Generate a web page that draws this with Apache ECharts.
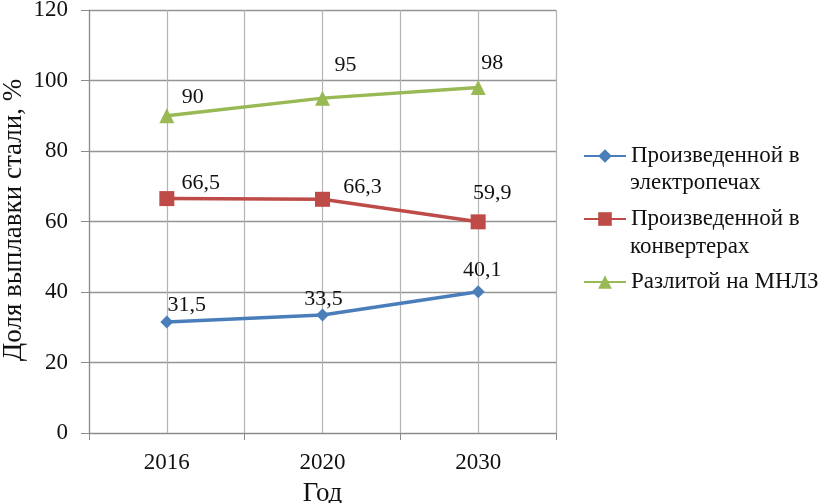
<!DOCTYPE html>
<html><head><meta charset="utf-8">
<script src="https://cdn.jsdelivr.net/npm/echarts@6/dist/echarts.min.js"></script>
<style>html,body{margin:0;padding:0;background:#fff}#c{width:822px;height:503px}</style>
</head><body><div id="c"></div>
<script>
const categories = ['2016', '2020', '2030'];
const seriesNames = ['Произведенной в электропечах', 'Произведенной в конвертерах', 'Разлитой на МНЛЗ'];
const legendFirstLines = ['Произведенной в', 'Произведенной в', 'Разлитой на МНЛЗ'];
const legendSecondLines = ['электропечах', 'конвертерах', ''];
const yAxisTitle = 'Доля выплавки стали, %';
const xAxisTitle = 'Год';
const electroValues = [31.5, 33.5, 40.1];
const converterValues = [66.5, 66.3, 59.9];
const mnlzValues = [90, 95, 98];
const yTicks = [0, 20, 40, 60, 80, 100, 120];

// layout-only label offsets (not data)
const labelOffsets = [
  [[20, 1], [1, 2], [4, -4]],
  [[34, 3], [40, 6], [14, -10]],
  [[26, 0], [23, -14], [14, -6]]
];
const colors = ['#4a7ebb', '#be4b48', '#98b954'];
const symbols = ['diamond', 'rect', 'triangle'];
const allValues = [electroValues, converterValues, mnlzValues];
const font = 'Liberation Serif, Times New Roman, serif';

const series = allValues.map((vals, si) => ({
  name: seriesNames[si],
  type: 'line',
  xAxisIndex: 0,
  yAxisIndex: 0,
  symbol: symbols[si],
  symbolSize: si === 0 ? 13 : 15,
  lineStyle: { width: 3.5, color: colors[si] },
  itemStyle: { color: colors[si] },
  data: vals.map((v, i) => ({
    value: v,
    label: { offset: labelOffsets[si][i] }
  })),
  label: {
    show: true,
    position: 'top',
    distance: 0,
    fontFamily: font,
    fontSize: 22,
    color: '#111',
    formatter: p => String(p.value).replace('.', ',')
  },
  z: 3 + si
}));

// second lines of the two-line legend entries (real text)
const legendTextX = 630;
const legendFirstY = 156;
const legendStep = [0, 64, 126];
const graphics = legendSecondLines.map((t, i) => t ? ({
  type: 'text',
  x: legendTextX,
  y: legendFirstY + legendStep[i] + 27,
  style: { text: t, font: '23px ' + font, fill: '#111', verticalAlign: 'middle' }
}) : null).filter(Boolean);
graphics.push({
  type: 'text',
  x: 14,
  y: 220,
  rotation: Math.PI / 2,
  style: { text: yAxisTitle, font: '27px ' + font, fill: '#111', align: 'center', verticalAlign: 'middle' }
});

const chart = echarts.init(document.getElementById('c'));
chart.setOption({
  animation: false,
  backgroundColor: '#fff',
  grid: { left: 89, right: 266, top: 10, bottom: 70, containLabel: false, outerBoundsMode: 'none' },
  xAxis: [{
    type: 'category',
    data: categories,
    boundaryGap: true,
    name: xAxisTitle,
    nameLocation: 'middle',
    nameGap: 47,
    nameTextStyle: { fontFamily: font, fontSize: 27, color: '#111' },
    axisLine: { lineStyle: { color: '#8a8a8a', width: 1.2 } },
    axisTick: { show: true, length: 7, interval: 0, lineStyle: { color: '#8a8a8a' } },
    axisLabel: { fontFamily: font, fontSize: 23, color: '#111', margin: 18, interval: 0 },
    splitLine: { show: false }
  }, {
    type: 'value',
    min: 0, max: 6, interval: 1,
    show: true,
    position: 'bottom',
    axisLine: { show: false },
    axisTick: { show: false },
    axisLabel: { show: false },
    splitLine: { show: true, lineStyle: { color: '#b4b4b4', width: 1.2 } }
  }],
  yAxis: {
    type: 'value',
    min: yTicks[0], max: yTicks[yTicks.length - 1], interval: 20,
    axisLine: { show: true, lineStyle: { color: '#8a8a8a', width: 1.2 } },
    axisTick: { show: true, length: 8, lineStyle: { color: '#8a8a8a' } },
    axisLabel: { fontFamily: font, fontSize: 23, color: '#111', margin: 21 },
    splitLine: { show: true, lineStyle: { color: '#959595', width: 1.4 } }
  },
  legend: {
    orient: 'vertical',
    left: 578,
    top: 137.5,
    itemWidth: 42,
    itemHeight: 17,
    itemGap: 36,
    data: seriesNames,
    formatter: name => legendFirstLines[seriesNames.indexOf(name)],
    textStyle: { fontFamily: font, fontSize: 23, color: '#111', lineHeight: 27 },
    inactiveColor: '#ccc'
  },
  graphic: graphics,
  series: series
});
</script>
</body></html>
